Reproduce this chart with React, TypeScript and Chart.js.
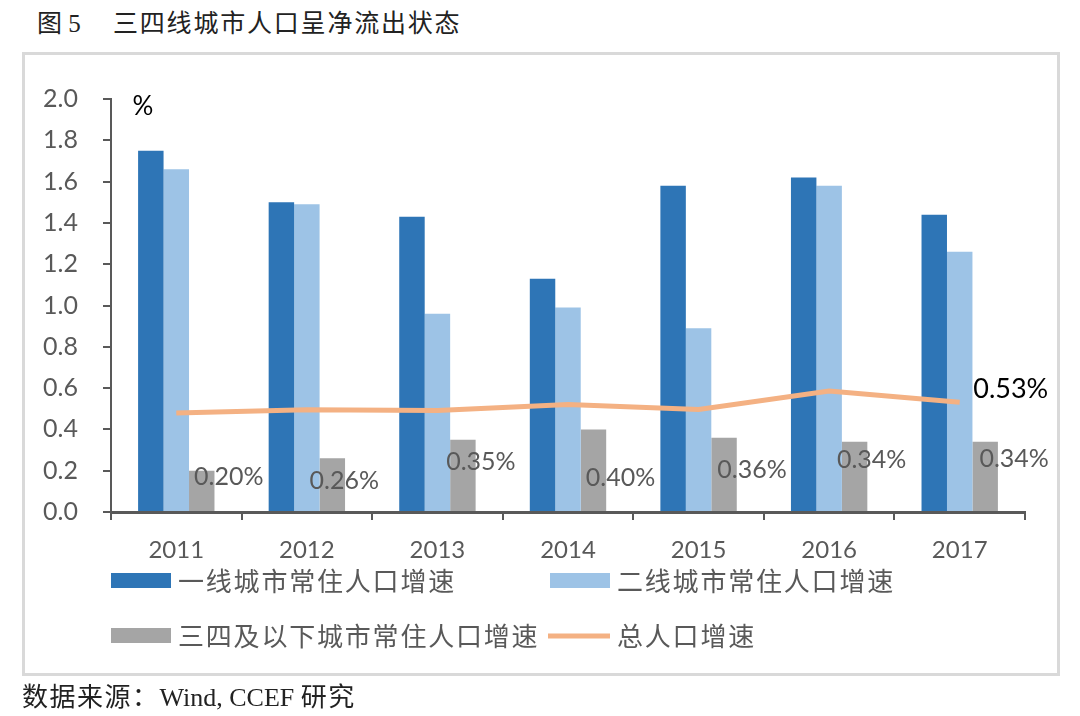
import React, { useEffect, useRef } from "react";
import { Chart, registerables } from "chart.js";

Chart.register(...registerables);

// ---------- data ----------
const years = ["2011", "2012", "2013", "2014", "2015", "2016", "2017"];
const tier1Growth = [1.75, 1.5, 1.43, 1.13, 1.58, 1.62, 1.44];
const tier2Growth = [1.66, 1.49, 0.96, 0.99, 0.89, 1.58, 1.26];
const tier34Growth = [0.2, 0.26, 0.35, 0.4, 0.36, 0.34, 0.34];
const totalGrowth = [0.48, 0.495, 0.492, 0.521, 0.496, 0.586, 0.532];
const seriesNames = [
  "一线城市常住人口增速",
  "二线城市常住人口增速",
  "三四及以下城市常住人口增速",
  "总人口增速",
];
const yMin = 0;
const yMax = 2.0;
const yStep = 0.2;
const unitLabel = "%";

// label placement offsets (px) for the tier-3/4 value labels: [dx from bar centre, dy from bar top]
const tier34LabelOffsets = [
  [27, 6],
  [12, 23],
  [18, 22],
  [27, 49],
  [28, 32],
  [17, 18],
  [29, 17],
];
const totalLabelOffset = [51, -13];

// ---------- styles ----------
const C_DARK = "#2E75B6";
const C_LIGHT = "#9DC3E6";
const C_GRAY = "#A5A5A5";
const C_ORANGE = "#F4B183";
const C_TEXT = "#595959";
const C_AXIS = "#595959";
const NUM_FONT = "Lato, 'Noto Sans', sans-serif";
const CJK_FONT = "'Noto Sans CJK SC', 'Noto Sans', sans-serif";

const labelsPlugin = {
  id: "customLabels",
  afterDatasetsDraw(chart: any) {
    const ctx = chart.ctx;
    const area = chart.chartArea;
    ctx.save();
    // unit label
    ctx.font = `26px ${NUM_FONT}`;
    ctx.fillStyle = "#000000";
    ctx.textAlign = "center";
    ctx.textBaseline = "middle";
    ctx.fillText(unitLabel, area.left + 32, area.top + 8);

    // tier 3/4 labels
    const grayMeta = chart.getDatasetMeta(2);
    ctx.fillStyle = C_TEXT;
    ctx.font = `25px ${NUM_FONT}`;
    grayMeta.data.forEach((bar: any, i: number) => {
      const v = tier34Growth[i];
      const off = tier34LabelOffsets[i];
      ctx.fillText(v.toFixed(2) + "%", bar.x + off[0], bar.y + off[1]);
    });

    // total label (last point)
    const lineMeta = chart.getDatasetMeta(3);
    const last = lineMeta.data[lineMeta.data.length - 1];
    ctx.fillStyle = "#000000";
    ctx.font = `27px ${NUM_FONT}`;
    ctx.fillText(
      totalGrowth[totalGrowth.length - 1].toFixed(2) + "%",
      last.x + totalLabelOffset[0],
      last.y + totalLabelOffset[1]
    );
    ctx.restore();
  },
  afterDraw(chart: any) {
    const ctx = chart.ctx;
    const area = chart.chartArea;
    const ds = chart.data.datasets;
    const rowsY = [area.bottom + 69, area.bottom + 124];
    const colsX = [area.left, area.left + 439];
    ctx.save();
    ctx.textBaseline = "middle";
    ctx.textAlign = "left";
    ctx.font = `26px ${CJK_FONT}`;
    (ctx as any).letterSpacing = "1.8px";
    ds.forEach((d: any, i: number) => {
      const x = colsX[i % 2];
      const y = rowsY[Math.floor(i / 2)];
      if (d.type === "line") {
        ctx.strokeStyle = d.borderColor;
        ctx.lineWidth = 5;
        ctx.beginPath();
        ctx.moveTo(x - 2, y);
        ctx.lineTo(x + 60, y);
        ctx.stroke();
      } else {
        ctx.fillStyle = d.backgroundColor;
        ctx.fillRect(x, y - 8, 60, 15);
      }
      ctx.fillStyle = C_TEXT;
      ctx.fillText(d.label, x + 67, y);
    });
    ctx.restore();
  },
};

export default function App() {
  const canvasRef = useRef<HTMLCanvasElement | null>(null);

  useEffect(() => {
    const canvas = canvasRef.current;
    if (!canvas) return;
    const chart = new Chart(canvas, {
      type: "bar",
      data: {
        labels: years,
        datasets: [
          {
            type: "bar",
            label: seriesNames[0],
            data: tier1Growth,
            backgroundColor: C_DARK,
            order: 1,
          },
          {
            type: "bar",
            label: seriesNames[1],
            data: tier2Growth,
            backgroundColor: C_LIGHT,
            order: 1,
          },
          {
            type: "bar",
            label: seriesNames[2],
            data: tier34Growth,
            backgroundColor: C_GRAY,
            order: 1,
          },
          {
            type: "line",
            label: seriesNames[3],
            data: totalGrowth,
            borderColor: C_ORANGE,
            backgroundColor: C_ORANGE,
            borderWidth: 5,
            pointRadius: 0,
            tension: 0,
            order: 0,
          } as any,
        ],
      },
      options: {
        responsive: false,
        animation: false,
        devicePixelRatio: 1,
        datasets: {
          bar: { categoryPercentage: 0.585, barPercentage: 1.0 },
        } as any,
        layout: { padding: { left: 30, top: 99, right: 55, bottom: 154 } },
        plugins: {
          legend: { display: false },
          tooltip: { enabled: false },
          title: { display: false },
        },
        scales: {
          x: {
            offset: true,
            grid: {
              offset: true,
              drawOnChartArea: false,
              drawTicks: true,
              tickLength: 8,
              color: C_AXIS,
              lineWidth: 2,
            },
            border: { display: true, color: C_AXIS, width: 3 },
            ticks: {
              color: C_TEXT,
              font: { family: NUM_FONT, size: 24 },
              padding: 16,
              maxRotation: 0,
            },
            afterFit(scale: any) {
              scale.height = 50;
            },
          },
          y: {
            min: yMin,
            max: yMax,
            grid: {
              drawOnChartArea: false,
              drawTicks: true,
              tickLength: 8,
              color: C_AXIS,
              lineWidth: 2,
            },
            border: { display: true, color: C_AXIS, width: 2 },
            ticks: {
              stepSize: yStep,
              color: C_TEXT,
              font: { family: NUM_FONT, size: 25 },
              padding: 25,
              callback: (v: any) => Number(v).toFixed(1),
            },
            afterFit(scale: any) {
              scale.width = 81;
            },
          },
        },
      },
      plugins: [labelsPlugin],
    });
    return () => chart.destroy();
  }, []);

  const serif = "'Liberation Serif', 'Noto Sans CJK SC', serif";

  return (
    <div
      style={{
        position: "fixed",
        left: 0,
        top: 0,
        width: 1080,
        height: 716,
        background: "#ffffff",
        overflow: "hidden",
      }}
    >
      <div
        style={{
          position: "absolute",
          left: 37,
          top: 8,
          height: 32,
          lineHeight: "32px",
          fontSize: 25,
          color: "#222",
          fontFamily: serif,
          whiteSpace: "nowrap",
        }}
      >
        图 5
      </div>
      <div
        style={{
          position: "absolute",
          left: 113,
          top: 8,
          height: 32,
          lineHeight: "32px",
          fontSize: 25,
          letterSpacing: "1.8px",
          color: "#222",
          fontFamily: serif,
          whiteSpace: "nowrap",
        }}
      >
        三四线城市人口呈净流出状态
      </div>
      <div
        style={{
          position: "absolute",
          left: 22,
          top: 52,
          width: 1038,
          height: 624,
          boxSizing: "border-box",
          border: "3px solid #d9d9d9",
        }}
      />
      <canvas
        ref={canvasRef}
        width={1080}
        height={716}
        style={{ position: "absolute", left: 0, top: 0, width: 1080, height: 716 }}
      />
      <div
        style={{
          position: "absolute",
          left: 22,
          top: 682,
          height: 32,
          lineHeight: "32px",
          fontSize: 26,
          color: "#222",
          fontFamily: serif,
          whiteSpace: "nowrap",
        }}
      >
        <span style={{ letterSpacing: "1.5px" }}>数据来源：</span>Wind, CCEF{" "}
        <span style={{ letterSpacing: "1.5px" }}>研究</span>
      </div>
    </div>
  );
}
